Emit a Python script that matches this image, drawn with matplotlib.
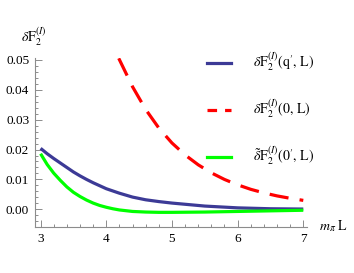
import matplotlib
matplotlib.use('Agg')
import matplotlib.pyplot as plt
from matplotlib.lines import Line2D
from matplotlib.ticker import MultipleLocator, FormatStrFormatter

plt.rcParams['font.family'] = ['Liberation Serif', 'DejaVu Serif']
plt.rcParams['mathtext.fontset'] = 'stix'

# values
mL_qp = [3.0, 3.1, 3.2, 3.3, 3.4, 3.5, 3.6, 3.7, 3.8, 3.9, 4.0, 4.2, 4.4, 4.6,
         4.8, 5.0, 5.25, 5.5, 5.75, 6.0, 6.5, 7.0]
dF_qp = [0.0204, 0.0186, 0.0170, 0.0155, 0.0140, 0.0125, 0.0112, 0.0100, 0.0089,
         0.0079, 0.0069, 0.0054, 0.0041, 0.0032, 0.0026, 0.0021, 0.0016, 0.0011,
         0.0008, 0.0005, 0.0002, 0.0001]

mL_zero = [4.19, 4.4, 4.6, 4.8, 5.0, 5.2, 5.4, 5.6, 5.8, 6.0, 6.2, 6.4, 6.6, 6.8, 7.0]
dF_zero = [0.0505, 0.0410, 0.0334, 0.0272, 0.0222, 0.0182, 0.0149, 0.0122,
           0.0100, 0.0082, 0.0067, 0.0055, 0.0045, 0.0037, 0.0030]

mL_tilde = [3.0, 3.1, 3.2, 3.3, 3.4, 3.5, 3.6, 3.7, 3.8, 3.9, 4.0, 4.1, 4.2, 4.4,
            4.6, 4.8, 5.0, 5.5, 6.0, 6.5, 7.0]
dF_tilde = [0.0186, 0.0150, 0.0121, 0.0097, 0.0075, 0.0057, 0.0043, 0.0031, 0.0021,
            0.0013, 0.0007, 0.0002, -0.0002, -0.0007, -0.0009, -0.0010, -0.0010,
            -0.0009, -0.0007, -0.0005, -0.0003]

labels = [r'$\delta\mathrm{F}_2^{(I)}(\mathrm{q}^\prime,\,\mathrm{L})$',
          r'$\delta\mathrm{F}_2^{(I)}(0,\,\mathrm{L})$',
          r'$\tilde{\delta}\mathrm{F}_2^{(I)}(0^\prime,\,\mathrm{L})$']

blue = '#3c3a96'
red = '#ff0000'
green = '#00ff00'
gray = '#8c8c8c'

fig = plt.figure(figsize=(3.54, 2.73), dpi=100)
ax = fig.add_axes([0.098, 0.1674, 0.768, 0.619])

ax.plot(mL_qp, dF_qp, color=blue, lw=2.3, solid_capstyle='butt')
ax.plot(mL_zero, dF_zero, color=red, lw=2.3, dashes=(6, 3.5), dash_capstyle='butt')
ax.plot(mL_tilde, dF_tilde, color=green, lw=2.3, solid_capstyle='butt')

ax.set_xlim(2.91, 7.05)
ax.set_ylim(-0.006, 0.0505)

for s in ['top', 'right']:
    ax.spines[s].set_visible(False)
for s in ['left', 'bottom']:
    ax.spines[s].set_color(gray)
    ax.spines[s].set_linewidth(0.8)

ax.xaxis.set_major_locator(MultipleLocator(1))
ax.xaxis.set_minor_locator(MultipleLocator(0.2))
ax.yaxis.set_major_locator(MultipleLocator(0.01))
ax.yaxis.set_minor_locator(MultipleLocator(0.002))
ax.yaxis.set_major_formatter(FormatStrFormatter('%.2f'))
ax.tick_params(which='both', direction='in', color=gray, width=0.7, labelsize=9.5)
ax.tick_params(which='major', length=5, pad=4)
ax.tick_params(which='minor', length=2.5)

fig.text(34 / 354, 1 - 37 / 273, r'$\delta\mathrm{F}_2^{(I)}$', fontsize=10,
         ha='center', va='center')
fig.text(334 / 354, 1 - 226 / 273, r'$m_\pi\ \mathrm{L}$', fontsize=10,
         ha='center', va='center')

handles = [Line2D([], [], color=blue, lw=2.3),
           Line2D([], [], color=red, lw=2.3, dashes=(3, 2.5)),
           Line2D([], [], color=green, lw=2.3)]
ax.legend(handles, labels, loc='upper left', bbox_to_anchor=(200 / 354, 1 - 44 / 273),
          bbox_transform=fig.transFigure, frameon=False, fontsize=10,
          handlelength=1.7, handletextpad=1.6, labelspacing=1.75, borderpad=0)

fig.savefig('out.png', dpi=100)
